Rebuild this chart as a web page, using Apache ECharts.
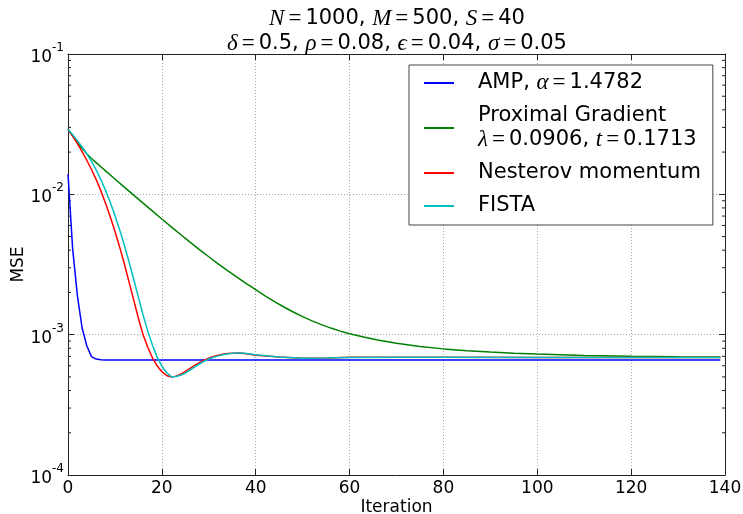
<!DOCTYPE html>
<html><head><meta charset="utf-8">
<script src="https://cdn.jsdelivr.net/npm/echarts@6/dist/echarts.min.js"></script>
<style>html,body{margin:0;padding:0;background:#fff}#c{width:743px;height:514px}</style>
</head><body><div id="c"></div>
<script>
// ---- data ----
const seriesNames = ['AMP', 'Proximal Gradient', 'Nesterov momentum', 'FISTA'];
const seriesColors = ['#0000ff', '#008000', '#ff0000', '#00bfbf'];

const ampIter = [0,1,2,3,4,5,6,7,8,10,20,40,60,80,100,120,139];
const ampMSE = [0.0139,0.00405,0.0019,0.00112,0.000834,0.000697,0.00067,0.000663,0.00066,0.00066,0.00066,0.00066,0.00066,0.00066,0.00066,0.00066,0.00066];

const proxIter = [0,1,2,3,4,5,6,7,8,10,12,14,16,18,20,22,24,26,28,30,32,34,36,38,40,42,44,46,48,50,52,54,56,58,60,63,66,70,75,80,85,90,95,100,110,120,130,139];
const proxMSE = [0.0291,0.02618,0.0235,0.02133,0.01946,0.01799,0.01681,0.01572,0.01469,0.01286,0.01125,0.00987,0.00865,0.0076,0.00667,0.00587,0.00517,0.00456,0.00404,0.00359,0.0032,0.00286,0.00257,0.00231,0.00209,0.00189,0.00172,0.001574,0.00145,0.001344,0.001255,0.001179,0.001114,0.00106,0.001016,0.000961,0.000917,0.000868,0.000824,0.000792,0.000769,0.000751,0.000738,0.000727,0.000711,0.000702,0.000697,0.000693];

const nestIter = [0,1,2,3,4,5,6,7,8,9,10,11,12,13,14,15,16,17,18,19,20,21,22,23,24,25,26,27,28,29,30,31,32,33,34,35,36,37,38,40,45,50,55,60,70,80,100,120,139];
const nestMSE = [0.0291,0.02594,0.02296,0.02014,0.0175,0.01503,0.01274,0.01059,0.00865,0.00693,0.00546,0.00422,0.0032,0.00238,0.00177,0.00131,0.001,0.000813,0.000684,0.0006,0.000545,0.000512,0.0005,0.000506,0.000522,0.000547,0.000575,0.000605,0.000632,0.000658,0.000679,0.000698,0.000713,0.000724,0.000733,0.000738,0.00074,0.000736,0.000731,0.000714,0.000692,0.000679,0.000682,0.000689,0.00069,0.000689,0.000687,0.000687,0.000687];

const fistaIter = [0,1,2,3,4,5,6,7,8,9,10,11,12,13,14,15,16,17,18,19,20,21,22,23,24,25,26,27,28,29,30,31,32,33,34,35,36,37,38,40,45,50,55,60,70,80,100,120,139];
const fistaMSE = [0.0291,0.0266,0.02415,0.02178,0.01945,0.01718,0.01493,0.01274,0.01067,0.00877,0.00708,0.0056,0.00435,0.00331,0.00248,0.00185,0.00138,0.00106,0.000841,0.000692,0.000596,0.000537,0.000502,0.000504,0.000513,0.000533,0.00056,0.000589,0.000618,0.000646,0.00067,0.00069,0.000706,0.000719,0.000729,0.000736,0.00074,0.00074,0.000735,0.000719,0.000693,0.000679,0.000681,0.000687,0.00069,0.000689,0.000687,0.000687,0.000687];

const xTicks = [0,20,40,60,80,100,120,140];
const yTickExponents = [-4,-3,-2,-1];
const yMinorTicks = [2e-4,3e-4,4e-4,5e-4,6e-4,7e-4,8e-4,9e-4,2e-3,3e-3,4e-3,5e-3,6e-3,7e-3,8e-3,9e-3,2e-2,3e-2,4e-2,5e-2,6e-2,7e-2,8e-2,9e-2];

const titleText = '{i|N}{e|=}1000, {i|M}{e|=}500, {i|S}{e|=}40\n{i|δ}{e|=}0.5, {i|ρ}{e|=}0.08, {i|ϵ}{e|=}0.04, {i|σ}{e|=}0.05';
const legendLabels = {
  'AMP': 'AMP, {i|α}{e|=}1.4782',
  'Proximal Gradient': 'Proximal Gradient\n{i|λ}{e|=}0.0906, {i|t}{e|=}0.1713',
  'Nesterov momentum': 'Nesterov momentum',
  'FISTA': 'FISTA'
};

// ---- chart ----
const F = 'DejaVu Sans';
const S = 'Liberation Serif';
const pairs = (xs, ys) => xs.map((x, i) => [x, ys[i]]);
const allIters = [ampIter, proxIter, nestIter, fistaIter];
const allMSE = [ampMSE, proxMSE, nestMSE, fistaMSE];

const mathRich = (fs, lh) => ({
  i: {fontFamily: S, fontStyle: 'italic', fontSize: fs + 2, color: '#000', lineHeight: lh},
  e: {fontFamily: S, fontSize: fs + 2, color: '#000', padding: [0, 4, 0, 4], lineHeight: lh}
});

const frameColor = '#222';
const gridLine = {show: true, lineStyle: {color: '#a8a8a8', type: [1, 2], width: 1}};
const axisCommonX = {
  type: 'value', min: 0, max: 140, interval: 20,
  axisLine: {show: true, onZero: false, lineStyle: {color: frameColor, width: 1}},
  axisTick: {show: true, inside: true, length: 6, lineStyle: {color: frameColor}},
};
const axisCommonY = {
  type: 'log', logBase: 10, min: 0.0001, max: 0.1,
  axisLine: {show: true, onZero: false, lineStyle: {color: frameColor, width: 1}},
  axisTick: {show: true, inside: true, length: 6, lineStyle: {color: frameColor}},
};

const lineSeries = seriesNames.map((n, k) => ({
  name: n, type: 'line', xAxisIndex: 0, yAxisIndex: 0,
  data: pairs(allIters[k], allMSE[k]),
  symbol: 'none', showSymbol: false, smooth: false,
  lineStyle: {color: seriesColors[k], width: 1.5},
  itemStyle: {color: seriesColors[k]},
  z: 3 + k
}));

// minor log ticks on left and right frame, placed through the y scale
const minorTickSeries = {
  type: 'custom', name: 'minorTicks', silent: true, xAxisIndex: 0, yAxisIndex: 0, z: 2,
  data: yMinorTicks.map(v => [0, v]),
  renderItem: (params, api) => {
    const v = api.value(1);
    const l = api.coord([0, v]);
    const r = api.coord([140, v]);
    const st = {stroke: frameColor, lineWidth: 1};
    return {type: 'group', children: [
      {type: 'line', shape: {x1: l[0], y1: l[1], x2: l[0] + 3, y2: l[1]}, style: st},
      {type: 'line', shape: {x1: r[0], y1: r[1], x2: r[0] - 3, y2: r[1]}, style: st}
    ]};
  }
};

const chart = echarts.init(document.getElementById('c'));
chart.setOption({
  animation: false,
  backgroundColor: '#fff',
  title: {
    text: titleText,
    left: 397, top: 6, textAlign: 'center', padding: 0,
    textStyle: {fontFamily: F, fontSize: 21, fontWeight: 'normal', color: '#000', lineHeight: 25, rich: mathRich(21, 25)}
  },
  grid: {left: 68, right: 18, top: 54, bottom: 39, containLabel: false, outerBoundsMode: 'none'},
  legend: {
    orient: 'vertical', left: 409, top: 65,
    padding: [6, 12, 7, 15], itemGap: 9,
    itemWidth: 30, itemHeight: 2, icon: 'rect',
    borderColor: '#444', borderWidth: 1, backgroundColor: '#fff',
    data: seriesNames,
    formatter: name => legendLabels[name],
    textStyle: {fontFamily: F, fontSize: 21, color: '#000', lineHeight: 24, padding: [0, 0, 0, 19], rich: mathRich(21, 24)}
  },
  xAxis: [
    Object.assign({}, axisCommonX, {
      position: 'bottom',
      axisLabel: {fontFamily: F, fontSize: 17, color: '#000', margin: 5},
      splitLine: gridLine,
      name: 'Iteration', nameLocation: 'middle', nameGap: 24, nameMoveOverlap: false,
      nameTextStyle: {fontFamily: F, fontSize: 17, color: '#000'}
    }),
    Object.assign({}, axisCommonX, {position: 'top', axisLabel: {show: false}, splitLine: {show: false}})
  ],
  yAxis: [
    Object.assign({}, axisCommonY, {
      position: 'left',
      axisLabel: {
        margin: 4,
        formatter: v => {
          const e = Math.round(Math.log10(v));
          return yTickExponents.includes(e) ? '{b|10}{s|' + e + '}' : '';
        },
        rich: {
          b: {fontFamily: F, fontSize: 17, color: '#000', verticalAlign: 'bottom', lineHeight: 24},
          s: {fontFamily: F, fontSize: 12, color: '#000', verticalAlign: 'top', lineHeight: 24}
        }
      },
      splitLine: gridLine,
      name: 'MSE', nameLocation: 'middle', nameGap: 41, nameRotate: 90, nameMoveOverlap: false,
      nameTextStyle: {fontFamily: F, fontSize: 17, color: '#000'}
    }),
    Object.assign({}, axisCommonY, {position: 'right', axisLabel: {show: false}, splitLine: {show: false}})
  ],
  series: [minorTickSeries].concat(lineSeries)
});
</script>
</body></html>
